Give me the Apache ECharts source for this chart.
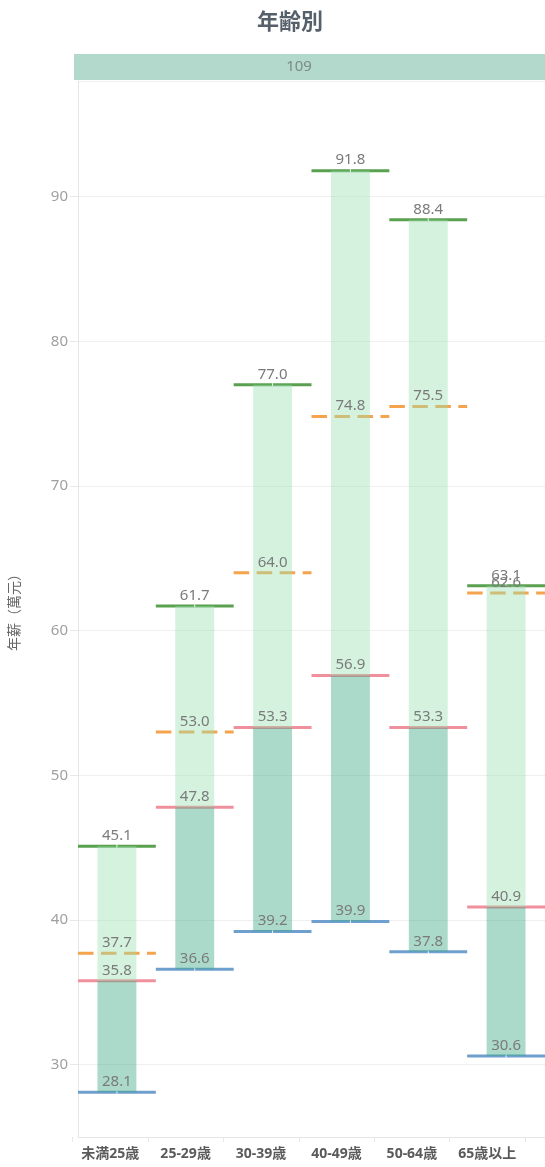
<!DOCTYPE html>
<html>
<head>
<meta charset="utf-8">
<title>年齢別</title>
<script src="https://cdn.jsdelivr.net/npm/echarts@6/dist/echarts.min.js"></script>
<style>
  html, body { margin: 0; padding: 0; background: #ffffff; }
  #chart { width: 545px; height: 1167px; }
</style>
</head>
<body>
<div id="chart"></div>
<script>
// Salary ranges (10k NTD) by age group
const categories = ['未満25歳', '25-29歳', '30-39歳', '40-49歳', '50-64歳', '65歳以上'];
const lowValues = [28.1, 36.6, 39.2, 39.9, 37.8, 30.6];
const medianValues = [35.8, 47.8, 53.3, 56.9, 53.3, 40.9];
const meanValues = [37.7, 53.0, 64.0, 74.8, 75.5, 62.6];
const highValues = [45.1, 61.7, 77.0, 91.8, 88.4, 63.1];
const headerLabel = '109';
const chartTitle = '年齢別';
const yAxisTitle = '年薪（萬元）';

const FONT = "'Noto Sans', 'Noto Sans CJK JP', sans-serif";

// Reference-line kinds: 0 low, 1 median, 2 mean, 3 high
const lineColors = ['#6f9fcf', '#f0909c', '#f5a34c', '#59a14f'];
const lineSets = [lowValues, medianValues, meanValues, highValues];

const lineData = [];
lineSets.forEach(function (arr, kind) {
  arr.forEach(function (v, i) { lineData.push([i, v, kind]); });
});

const chart = echarts.init(document.getElementById('chart'), null, { renderer: 'canvas' });

chart.setOption({
  animation: false,
  backgroundColor: '#ffffff',
  textStyle: { fontFamily: FONT },
  title: {
    text: chartTitle,
    left: 285,
    top: 7,
    textAlign: 'center',
    textStyle: { fontFamily: FONT, fontSize: 22, fontWeight: 'bold', color: '#56606b' }
  },
  graphic: [
    {
      type: 'rect',
      left: 74,
      top: 54,
      shape: { width: 472, height: 26 },
      style: { fill: '#b2d9cb' },
      silent: true
    },
    {
      type: 'text',
      x: 299,
      y: 67,
      style: {
        text: headerLabel,
        align: 'center',
        verticalAlign: 'middle',
        fill: '#7d8a85',
        font: '15px ' + FONT
      },
      silent: true
    }
  ],
  grid: [
    { left: 76, top: 81, width: 470, height: 1056 },
    { left: 72.5, top: 1136, width: 452.5, height: 1 }
  ],
  xAxis: [
    {
      type: 'category',
      gridIndex: 0,
      data: categories,
      axisLine: { show: true, lineStyle: { color: '#e6e6e6', width: 1 } },
      axisTick: { show: false },
      axisLabel: { show: false },
      splitLine: { show: false }
    },
    {
      type: 'category',
      gridIndex: 1,
      position: 'bottom',
      data: categories,
      axisLine: { show: false },
      axisTick: { show: true, interval: 0, length: 5, lineStyle: { color: '#e8e8e8' } },
      axisLabel: {
        show: true,
        interval: 0,
        margin: 10,
        fontFamily: FONT,
        fontSize: 14,
        fontWeight: 'bold',
        color: '#5a5a5a'
      },
      splitLine: { show: false }
    }
  ],
  yAxis: [
    {
      type: 'value',
      gridIndex: 0,
      min: 25,
      max: 98,
      minInterval: 10,
      maxInterval: 10,
      name: yAxisTitle,
      nameLocation: 'middle',
      nameGap: 56,
      nameTextStyle: { fontFamily: FONT, fontSize: 14, color: '#666666' },
      axisLine: { show: true, lineStyle: { color: '#e6e6e6' } },
      axisTick: { show: true, length: 8, lineStyle: { color: '#e8e8e8' } },
      axisLabel: {
        margin: 10,
        fontFamily: FONT,
        fontSize: 15,
        color: '#a0a0a0',
        showMinLabel: false,
        showMaxLabel: false,
        formatter: function (v) { return v % 10 === 0 ? String(v) : ''; }
      },
      splitLine: { show: true, lineStyle: { color: '#efefef', width: 1 } }
    },
    {
      type: 'value',
      gridIndex: 1,
      show: false
    }
  ],
  series: [
    // Horizontal reference lines spanning each category
    {
      type: 'custom',
      name: 'lines',
      xAxisIndex: 0,
      yAxisIndex: 0,
      z: 2,
      silent: true,
      data: lineData,
      renderItem: function (params, api) {
        const i = api.value(0), v = api.value(1), kind = api.value(2);
        const p = api.coord([i, v]);
        const w = api.size([1, 0])[0];
        const children = [{
          type: 'line',
          shape: { x1: p[0] - w / 2, y1: p[1], x2: p[0] + w / 2, y2: p[1] },
          style: {
            stroke: lineColors[kind],
            lineWidth: 3,
            lineDash: kind === 2 ? [15.5, 7.5] : null
          }
        }];
        if (kind === 0 || kind === 3) {
          children.push({
            type: 'line',
            shape: { x1: p[0], y1: p[1] - 1.5, x2: p[0], y2: p[1] + 1.5 },
            style: { stroke: '#ffffff', lineWidth: 1 }
          });
        }
        return { type: 'group', children: children };
      }
    },
    // Range bars: transparent base, low→median, median→high
    {
      type: 'bar',
      name: 'base',
      stack: 'range',
      barWidth: '50%',
      z: 3,
      silent: true,
      itemStyle: { color: 'rgba(0,0,0,0)' },
      data: lowValues
    },
    {
      type: 'bar',
      name: 'lower',
      stack: 'range',
      barWidth: '50%',
      z: 3,
      silent: true,
      itemStyle: { color: '#3aa681', opacity: 0.42 },
      data: medianValues.map(function (m, i) { return +(m - lowValues[i]).toFixed(1); })
    },
    {
      type: 'bar',
      name: 'upper',
      stack: 'range',
      barWidth: '50%',
      z: 3,
      silent: true,
      itemStyle: { color: '#9ae1b1', opacity: 0.42 },
      data: highValues.map(function (h, i) { return +(h - medianValues[i]).toFixed(1); })
    },
    // Value labels above each reference line
    {
      type: 'custom',
      name: 'labels',
      xAxisIndex: 0,
      yAxisIndex: 0,
      z: 5,
      silent: true,
      data: lineData,
      renderItem: function (params, api) {
        const i = api.value(0), v = api.value(1);
        const p = api.coord([i, v]);
        return {
          type: 'text',
          x: p[0],
          y: p[1] - 3,
          style: {
            text: v.toFixed(1),
            align: 'center',
            verticalAlign: 'bottom',
            fill: '#7a7a7a',
            font: '15px ' + FONT
          }
        };
      }
    }
  ]
});
</script>
</body>
</html>
